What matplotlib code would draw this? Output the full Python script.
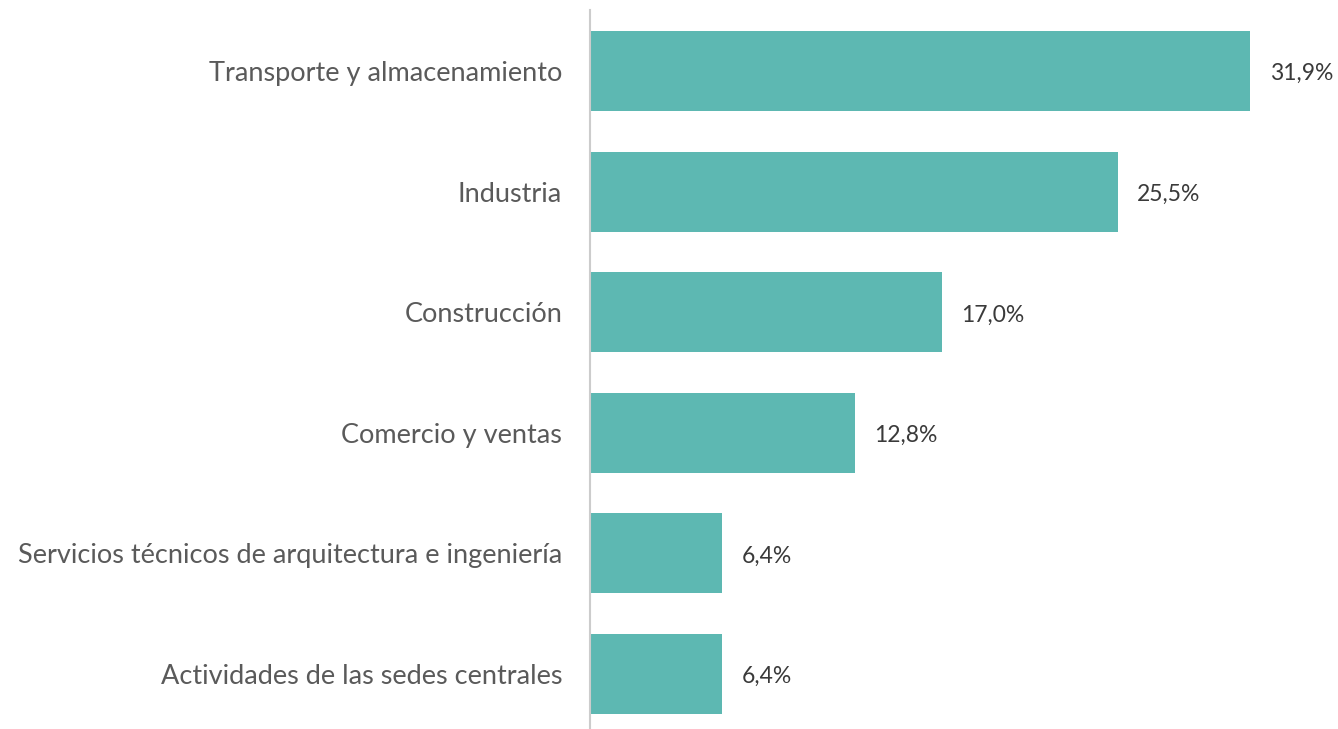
import matplotlib
matplotlib.use("Agg")
import matplotlib.pyplot as plt

categories = [
    "Transporte y almacenamiento",
    "Industria",
    "Construcción",
    "Comercio y ventas",
    "Servicios técnicos de arquitectura e ingeniería",
    "Actividades de las sedes centrales",
]
values = [31.9, 25.5, 17.0, 12.8, 6.4, 6.4]
value_labels = ["31,9%", "25,5%", "17,0%", "12,8%", "6,4%", "6,4%"]

plt.rcParams['font.family'] = ['Lato', 'DejaVu Sans']

W, H = 1338, 729
fig = plt.figure(figsize=(W / 100, H / 100), dpi=100)
ax = fig.add_axes([590 / W, 0, (1335 - 590) / W, 719 / H])

ypos = list(range(len(categories)))
ax.barh(ypos, values, height=0.663, color="#5DB8B2")
ax.set_xlim(0, 36)
ax.set_ylim(5.456, -0.506)

ax.set_yticks(ypos)
ax.set_yticklabels(categories, fontsize=19.5, color="#5a5a5a")
ax.tick_params(axis="y", length=0, pad=20)
ax.set_xticks([])

for s in ["top", "right", "bottom"]:
    ax.spines[s].set_visible(False)
ax.spines["left"].set_color("#cccccc")
ax.spines["left"].set_linewidth(1.5)

for y, v, lab in zip(ypos, values, value_labels):
    ax.annotate(lab, xy=(v, y), xytext=(14, -2), textcoords="offset points",
                va="center", ha="left", fontsize=16.5, color="#3a3a3a")

fig.savefig("out.png", dpi=100)
